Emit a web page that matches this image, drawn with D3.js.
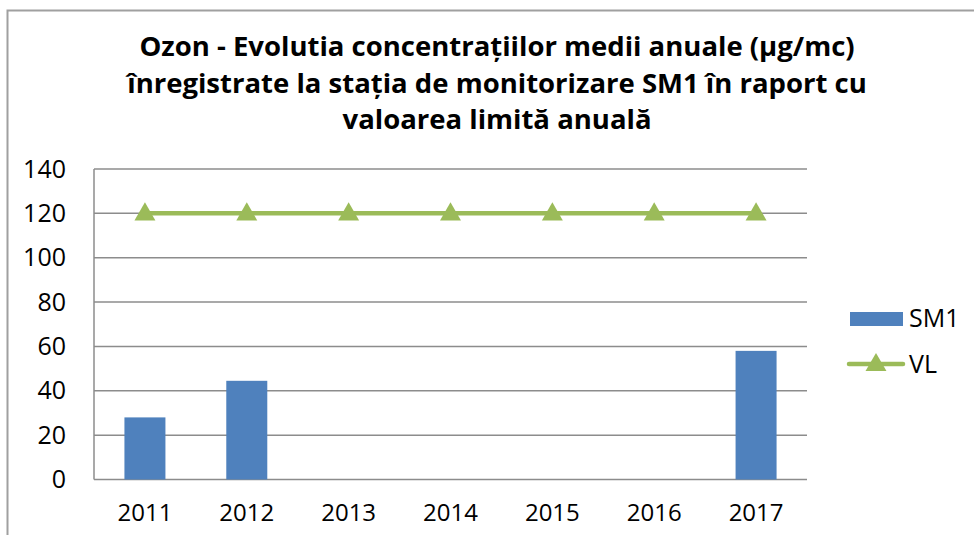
<!DOCTYPE html>
<html><head><meta charset="utf-8">
<script src="https://cdn.jsdelivr.net/npm/d3@7"></script>
<style>body{margin:0;background:#fff}svg{display:block}</style>
</head><body>
<svg id="c" width="974" height="535"></svg>
<script>
const years = ["2011","2012","2013","2014","2015","2016","2017"];
const sm1 = [28, 44.5, null, null, null, null, 58];
const vl = [120, 120, 120, 120, 120, 120, 120];
const yTicks = [0,20,40,60,80,100,120,140];
const titleLines = ["Ozon - Evolutia concentrațiilor medii anuale (µg/mc)",
  "înregistrate la stația de monitorizare SM1 în raport cu",
  "valoarea limită anuală"];

const svg = d3.select("#c");
const font = "'Open Sans', 'Liberation Sans', sans-serif";
// border
svg.append("path").attr("d","M7.5,540 L7.5,10.5 L980,10.5").attr("fill","none").attr("stroke","#a0a0a0").attr("stroke-width",2);

const L=94, R=807, T=169, B=479.5;
const xc = d3.scaleBand().domain(years).range([L,R]);
const y = d3.scaleLinear().domain([0,140]).range([B,T]);

// gridlines
svg.append("g").selectAll("line").data(yTicks).join("line")
  .attr("x1",L).attr("x2",R).attr("y1",d=>y(d)).attr("y2",d=>y(d))
  .attr("stroke","#8c8c8c").attr("stroke-width",1.5);
svg.append("line").attr("x1",L).attr("x2",L).attr("y1",T).attr("y2",B).attr("stroke","#8c8c8c").attr("stroke-width",1.5);

// y axis labels
const yAxis = d3.axisLeft(y).tickValues(yTicks).tickSize(0).tickPadding(28);
const gy = svg.append("g").attr("transform",`translate(${L},0)`).call(yAxis);
gy.select(".domain").remove();
gy.selectAll("text").attr("font-family",font).attr("font-size",25).attr("fill","#000");

const xAxis = d3.axisBottom(xc).tickSize(0).tickPadding(24);
const gx = svg.append("g").attr("transform",`translate(0,${B})`).call(xAxis);
gx.select(".domain").remove();
gx.selectAll("text").attr("font-family",font).attr("font-size",24).attr("fill","#000");

// bars
const barW = 41;
svg.append("g").selectAll("rect").data(years.map((yr,i)=>({yr,v:sm1[i]})).filter(d=>d.v!=null)).join("rect")
  .attr("x",d=>xc(d.yr)+xc.bandwidth()/2-barW/2).attr("width",barW)
  .attr("y",d=>y(d.v)).attr("height",d=>B-y(d.v))
  .attr("fill","#4f81bd");

// VL line
const pts = years.map((yr,i)=>[xc(yr)+xc.bandwidth()/2, y(vl[i])]);
svg.append("path").attr("d",d3.line()(pts)).attr("fill","none").attr("stroke","#9bbb59").attr("stroke-width",4.5);
const tri = d3.symbol().type(d3.symbolTriangle).size(190);
svg.append("g").selectAll("path").data(pts).join("path")
  .attr("transform",d=>`translate(${d[0]},${d[1]+1})`).attr("d",tri()).attr("fill","#9bbb59");

// legend
svg.append("rect").attr("x",850).attr("y",312).attr("width",53).attr("height",14).attr("fill","#4f81bd");
svg.append("text").attr("x",909).attr("y",327).text("SM1").attr("font-family",font).attr("font-size",25);
svg.append("line").attr("x1",849).attr("x2",903).attr("y1",364).attr("y2",364).attr("stroke","#9bbb59").attr("stroke-width",4.5).attr("stroke-linecap","round");
svg.append("path").attr("transform","translate(876,365)").attr("d",tri()).attr("fill","#9bbb59");
svg.append("text").attr("x",909).attr("y",373).text("VL").attr("font-family",font).attr("font-size",25);

// title
svg.append("g").selectAll("text").data(titleLines).join("text")
  .attr("x",497).attr("y",(d,i)=>56+i*36.5).attr("text-anchor","middle")
  .attr("font-family",font).attr("font-weight","bold").attr("font-size",27.5).attr("fill","#000")
  .text(d=>d);
</script>
</body></html>
